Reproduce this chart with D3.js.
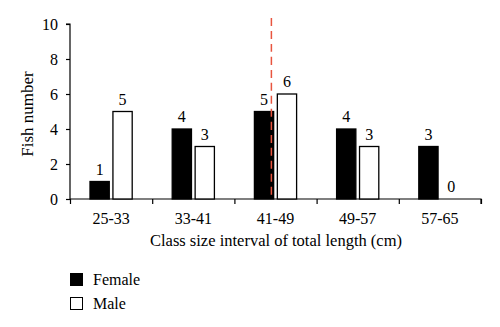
<!DOCTYPE html>
<html><head><meta charset="utf-8">
<script src="https://cdn.jsdelivr.net/npm/d3@7"></script>
<style>
html,body{margin:0;padding:0;background:#fff;}
svg{display:block;}
svg text{font-family:"Liberation Serif","Times New Roman",serif;fill:#000;}
</style></head>
<body><svg id="c" width="500" height="327"></svg>
<script>
const categories = ["25-33","33-41","41-49","49-57","57-65"];
const female = [1,4,5,4,3];
const male = [5,3,6,3,0];
const yTicks = [0,2,4,6,8,10];
const seriesNames = ["Female","Male"];
const lengthDomain = [25,65];
const meanLength = 44.6;
const markerTop = 10.35;

const svg = d3.select("#c");
const L = 70, R = 481, T = 24, B = 199;

const x0 = d3.scaleBand().domain(categories).range([L,R]).padding(0);
const x1 = d3.scaleBand().domain(seriesNames).range([20, x0.bandwidth()-20]).paddingInner(0.16);
const y = d3.scaleLinear().domain([0,10]).range([B,T]);
const xLen = d3.scaleLinear().domain(lengthDomain).range([L,R]);

// axes
const yAxis = d3.axisLeft(y).tickValues(yTicks).tickSize(4).tickPadding(8);
const gy = svg.append("g").attr("transform",`translate(${L},0)`).call(yAxis)
  .attr("font-family",null).attr("font-size",null);
gy.select(".domain").attr("d",`M-4,${T}H0V${B}`).attr("stroke","#000").attr("stroke-width",1.2);
gy.selectAll(".tick line").attr("stroke-width",1.2);
gy.selectAll("text").style("font-size","16px");

const xAxis = d3.axisBottom(xLen).tickValues([25,33,41,49,57,65]).tickSize(5).tickFormat("");
const gx = svg.append("g").attr("transform",`translate(0,${B})`).call(xAxis);
gx.select(".domain").attr("d",`M${L},0H${R}V5`).attr("stroke","#000").attr("stroke-width",1.2);
gx.selectAll(".tick line").attr("stroke-width",1.2);

svg.append("g").selectAll("text").data(categories).join("text")
  .attr("x",d=>x0(d)+x0.bandwidth()/2).attr("y",224)
  .attr("text-anchor","middle").style("font-size","16px").text(d=>d);

// bars
const rows = categories.map((c,i)=>({c, vals:[{k:"Female",v:female[i]},{k:"Male",v:male[i]}]}));
const g = svg.append("g").selectAll("g").data(rows).join("g")
  .attr("transform",d=>`translate(${x0(d.c)},0)`);
g.selectAll("rect").data(d=>d.vals.filter(e=>e.v>0)).join("rect")
  .attr("x",d=>x1(d.k)).attr("width",x1.bandwidth())
  .attr("y",d=>y(d.v)).attr("height",d=>y(0)-y(d.v))
  .attr("fill",d=>d.k==="Female"?"#000":"#fff")
  .attr("stroke","#000").attr("stroke-width",1.3);
g.selectAll("text").data(d=>d.vals).join("text")
  .attr("x",d=>x1(d.k)+x1.bandwidth()/2).attr("y",d=>y(d.v)-7)
  .attr("text-anchor","middle").style("font-size","16px").text(d=>d.v);

// mean marker
svg.append("line")
  .attr("x1",xLen(meanLength)).attr("x2",xLen(meanLength))
  .attr("y1",y(markerTop)).attr("y2",B)
  .attr("stroke","#e8553f").attr("stroke-width",1.5).attr("stroke-dasharray","8,5");

// titles
svg.append("text").attr("transform","translate(33,114) rotate(-90)")
  .attr("text-anchor","middle").style("font-size","17px").text("Fish number");
svg.append("text").attr("x",276).attr("y",246)
  .attr("text-anchor","middle").style("font-size","16.5px").text("Class size interval of total length (cm)");

// legend
const lg = svg.append("g").selectAll("g").data(seriesNames).join("g")
  .attr("transform",(d,i)=>`translate(70,${273+i*24})`);
lg.append("rect").attr("x",0.5).attr("y",0.5).attr("width",12).attr("height",12)
  .attr("fill",d=>d==="Female"?"#000":"#fff").attr("stroke","#000").attr("stroke-width",1);
lg.append("text").attr("x",23).attr("y",11.5).style("font-size","16px").text(d=>d);
</script></body></html>
